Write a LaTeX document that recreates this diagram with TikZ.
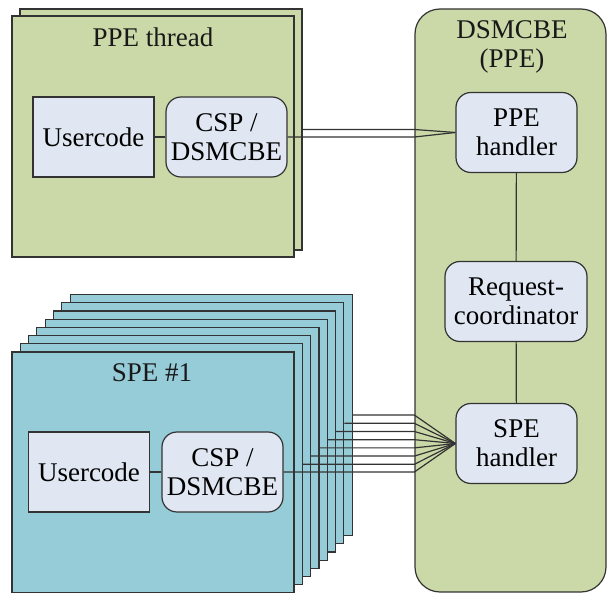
\documentclass[tikz,border=0pt]{standalone}
\usepackage{fontspec}
\setmainfont{Liberation Serif}
\usepackage{xcolor}
\usepackage{tikz}
\usetikzlibrary{positioning}
\definecolor{ppegreen}{RGB}{203,217,168}
\definecolor{speblue}{RGB}{150,203,216}
\definecolor{boxfill}{RGB}{224,231,242}

\begin{document}
\begin{tikzpicture}[x=0.5pt, y=-0.5pt, line width=0.6pt,
  thread/.style={draw=black!80, minimum width=141pt, minimum height=120.5pt, inner sep=0pt},
  inner/.style={draw=black!80, fill=boxfill, minimum width=60.5pt, minimum height=40pt,
    inner sep=0pt, align=center, font=\fontsize{13.5}{14.5}\selectfont},
  roundinner/.style={inner, rounded corners=7.5pt},
  title/.style={align=center, font=\fontsize{13.5}{14.5}\selectfont, text=black!90},
  link/.style={draw=black!80, line width=0.6pt}]
  \useasboundingbox (0,0) rectangle (607,593);

  % ---- RIGHT: DSMCBE (PPE) ----
  \node[draw=black!80, fill=ppegreen, rounded corners=12.5pt, minimum width=95.5pt,
    minimum height=291.5pt, inner sep=0pt] (dsm) at (510.5,300.5) {};
  \node[title] (dsmtitle) at (512,47) {DSMCBE\\(PPE)};
  \node[roundinner] (ppehandler) at (516.5,132.5) {PPE\\handler};
  \node[roundinner, minimum width=71pt] (reqcoord) at (516,301.5) {Request-\\coordinator};
  \node[roundinner] (spehandler) at (516.5,443.5) {SPE\\handler};
  \draw[link] (ppehandler) -- (reqcoord);
  \draw[link] (reqcoord) -- (spehandler);

  % ---- TOP LEFT: PPE thread ----
  \node[thread, fill=ppegreen] (ppeback) at (161,129.5) {};
  \node[thread, fill=ppegreen] (ppe) at (153,136.5) {};
  \node[title] (ppetitle) at (153,37) {PPE thread};
  \node[inner] (ppeuser) at (93.5,137) {Usercode};
  \node[roundinner] (ppecsp) at (226.5,137) {CSP /\\DSMCBE};
  \draw[link] (ppeuser) -- (ppecsp);

  % ---- BOTTOM LEFT: stack of SPEs ----
  \foreach \i in {7,6,...,1} {
    \node[thread, fill=speblue] (spe\i) at ({153+8.3*\i},{472.5-8.2*\i}) {};
  }
  \node[thread, fill=speblue] (spe0) at (153,472.5) {};
  \node[title] (spetitle) at (152,373) {SPE \#1};
  \node[inner] (speuser) at (89,472) {Usercode};
  \node[roundinner] (specsp) at (222.5,472) {CSP /\\DSMCBE};
  \draw[link] (speuser) -- (specsp);

  % Links into the handlers
  \draw[link] (ppecsp.east) -- (ppecsp.east -| dsm.west) -- (ppehandler.west);
  \draw[link] (ppeback.east) -- (ppeback.east -| dsm.west) -- (ppehandler.west);
  \draw[link] (specsp.east) -- (specsp.east -| dsm.west) -- (spehandler.west);
  \foreach \i in {1,...,7} {
    \draw[link] (spe\i.east) -- (spe\i.east -| dsm.west) -- (spehandler.west);
  }
\end{tikzpicture}
\end{document}
